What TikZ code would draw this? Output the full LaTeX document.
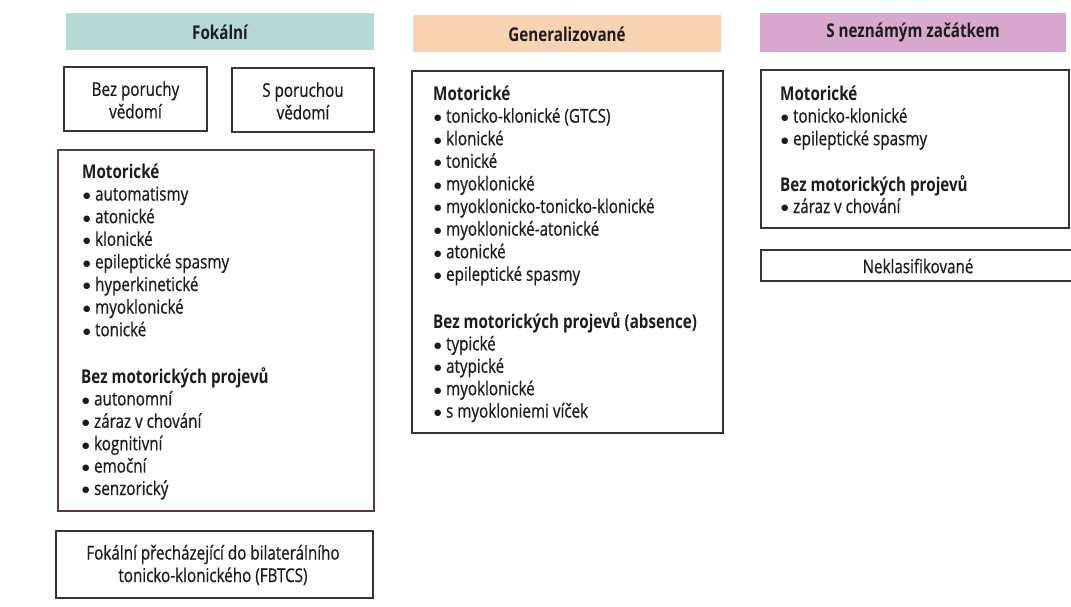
\documentclass[tikz,border=0pt]{standalone}
\usepackage{fontspec}
\setmainfont{Open Sans}[FakeStretch=0.8, UprightFeatures={FakeBold=0.6}]
\newfontfamily\dejavu{DejaVu Sans}
\newcommand{\blt}{\raisebox{2.2pt}{\dejavu\fontsize{8.5}{8}\selectfont ●}\hspace{4.5pt}}
\definecolor{teal1}{RGB}{180,217,215}
\definecolor{peach}{RGB}{247,211,178}
\definecolor{pinkh}{RGB}{216,168,206}
\definecolor{ink}{RGB}{30,27,30}
\definecolor{boxline}{RGB}{55,50,53}
\definecolor{redline}{RGB}{95,55,65}
\tikzset{
  hdr/.style={inner sep=0pt, font=\fontsize{19}{21}\selectfont\bfseries, text=ink},
  frame/.style={draw=boxline, line width=1.2pt},
  item/.style={anchor=base west, inner sep=0pt, text=ink, font=\fontsize{19}{22}\selectfont},
  head/.style={item, font=\fontsize{19}{22}\selectfont\bfseries},
  ctext/.style={inner sep=0pt, text=ink, align=center, font=\fontsize{19}{22.5}\selectfont}
}
\begin{document}
\begin{tikzpicture}[x=1pt,y=-1pt]
\useasboundingbox (0,0) rectangle (1071,606);
\fill[white] (0,0) rectangle (1071,606);
% headers
\fill[teal1] (66,13) rectangle (374,50);
\node[hdr] (hF) at (220,32) {Fokální};
\fill[peach] (413,15) rectangle (721,52);
\node[hdr] (hG) at (567,34) {Generalizované};
\fill[pinkh] (760,13) rectangle (1066,52);
\node[hdr] (hU) at (913,33) {S neznámým začátkem};
% focal small boxes
\draw[frame] (64,67) rectangle (207,131);
\node[ctext] (bp) at (135.5,100) {Bez poruchy\\vědomí};
\draw[frame] (232,68) rectangle (374,132);
\node[ctext] (sp) at (303,101) {S poruchou\\vědomí};
% focal big box
\draw[frame, draw=redline] (58,150) rectangle (374,511);
\node[head] (fm) at (82,178) {Motorické};
\foreach \t [count=\i] in {automatismy, atonické, klonické, epileptické spasmy, hyperkinetické, myoklonické, tonické}
  \node[item] (fm\i) at (83,178+22.6*\i) {\blt\t};
\node[head] (fn) at (81,383) {Bez motorických projevů};
\foreach \t [count=\i] in {autonomní, záraz v chování, kognitivní, emoční, senzorický}
  \node[item] (fn\i) at (82,383+22.4*\i) {\blt\t};
% FBTCS
\draw[frame] (56,531) rectangle (373,598);
\node[ctext] (fb) at (213,565) {Fokální přecházející do bilaterálního\\tonicko-klonického (FBTCS)};
% generalized box
\draw[frame] (412,71) rectangle (723,433);
\node[head] (gm) at (433,100) {Motorické};
\foreach \t [count=\i] in {tonicko-klonické (GTCS), klonické, tonické, myoklonické, myoklonicko-tonicko-klonické, myoklonické-atonické, atonické, epileptické spasmy}
  \node[item] (gm\i) at (434,100+22.6*\i) {\blt\t};
\node[head] (gn) at (433,328) {Bez motorických projevů (absence)};
\foreach \t [count=\i] in {typické, atypické, myoklonické, s myokloniemi víček}
  \node[item] (gn\i) at (434,328+22.4*\i) {\blt\t};
% unknown box
\draw[frame] (761,70) rectangle (1069,228);
\node[head] (um) at (780,100) {Motorické};
\foreach \t [count=\i] in {tonicko-klonické, epileptické spasmy}
  \node[item] (um\i) at (781,100+22.6*\i) {\blt\t};
\node[head] (un) at (780,191) {Bez motorických projevů};
\node[item] (un1) at (781,213) {\blt záraz v chování};
% unclassified
\draw[frame] (761,250) rectangle (1075,281);
\node[ctext] (nk) at (918,266) {Neklasifikované};
\end{tikzpicture}
\end{document}
